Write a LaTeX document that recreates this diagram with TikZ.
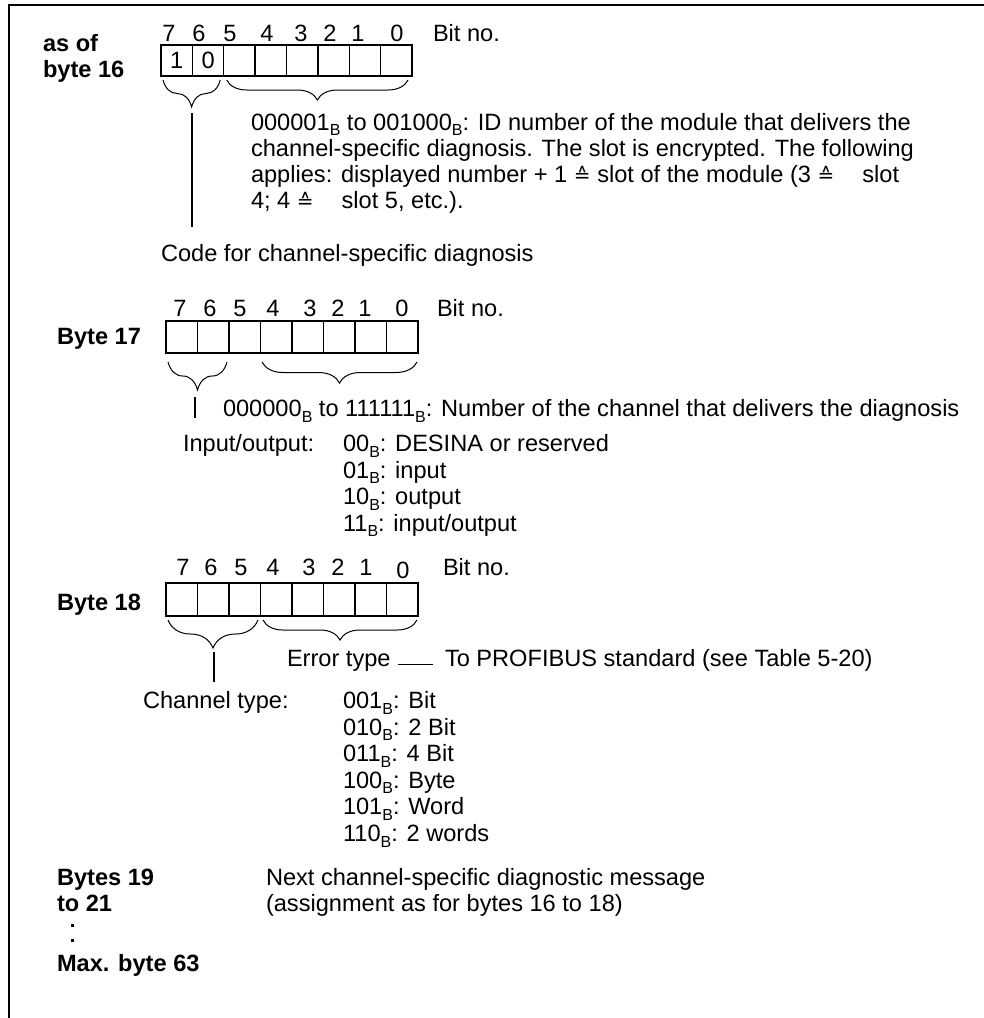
\documentclass[tikz,border=0pt]{standalone}
\usepackage{fontspec}
\setmainfont{Liberation Sans}
\newfontfamily\symfnt{DejaVu Sans}
\usetikzlibrary{decorations.pathreplacing}
\newcommand\sB{\raisebox{-0.24em}[0pt][0pt]{\fontsize{16}{16}\selectfont B}}
\newcommand\corr{{\symfnt\fontsize{20}{20}\selectfont ≙}}
\begin{document}
\begin{tikzpicture}[x=1pt,y=-1pt,
  every node/.style={inner sep=0pt, outer sep=0pt, font=\fontsize{23.6}{26}\selectfont},
  txt/.style={anchor=base west},
  lbl/.style={anchor=base west, font=\fontsize{23.6}{26}\selectfont\bfseries},
  cell/.style={draw, line width=1.4pt, minimum width=31.4pt, minimum height=#1, anchor=center},
  brc/.style={decorate, decoration={brace, mirror, amplitude=#1}, line width=1pt},
  ln/.style={line width=1.1pt},
  frame/.style={line width=1.6pt}]
\useasboundingbox (0,0) rectangle (984,1018);
\draw[frame] (9,1018) -- (9,5) -- (984,5);

% ---------- as of byte 16 ----------
\foreach \i/\t in {0/1,1/0,2/,3/,4/,5/,6/,7/}
  \node[cell=31pt] (a\i) at ({161+31.375*(\i+0.5)},60.5) {\t};
\foreach \x/\n in {169/7,199/6,230/5,267/4,301/3,330/2,358/1,397/0}
  \node (an\n) at (\x,33) {\n};
\node[txt] (abit) at (433,41.5) {Bit no.};
\node[lbl] (asof) at (43,51) {as of};
\node[lbl] (b16) at (43,77) {byte 16};
\draw[brc=27] ([shift={(2pt,-4pt)}]a0.south west) -- ([shift={(-3.5pt,-4pt)}]a1.south east);
\draw[brc=20] ([shift={(3pt,-4pt)}]a2.south west) -- ([shift={(-4pt,-4pt)}]a7.south east);
\coordinate (t16) at (192,113);
\coordinate (t16e) at (192,227);
\draw[ln] (t16) -- (t16e);
\node[txt] (p1) at (251,130) {000001\sB{} to 001000\sB: ID number of the module that delivers the};
\node[txt] (p2) at (251,156.5) {channel-specific diagnosis. The slot is encrypted. The following};
\node[txt] (p3) at (251,182.5) {applies: displayed number + 1 \corr{} slot of the module (3 \corr\hspace{28pt}slot};
\node[txt] (p4) at (251,208.5) {4; 4 \corr\hspace{28pt}slot 5, etc.).};
\node[txt] (code) at (161,261.5) {Code for channel-specific diagnosis};

% ---------- Byte 17 ----------
\foreach \i in {0,...,7}
  \node[cell=32pt, minimum width=31.5pt] (b\i) at ({166+31.5*(\i+0.5)},337) {};
\foreach \x/\n in {180/7,210/6,240/5,273/4,310/3,338/2,365/1,402/0}
  \node (bn\n) at (\x,308) {\n};
\node[txt] (bbit) at (437,316.5) {Bit no.};
\node[lbl] (b17) at (57,344.5) {Byte 17};
\draw[brc=28] ([shift={(2pt,-9pt)}]b0.south west) -- ([shift={(-2pt,-9pt)}]b1.south east);
\draw[brc=21] ([shift={(1.5pt,-9pt)}]b3.south west) -- ([shift={(-1pt,-9pt)}]b7.south east);
\coordinate (t17) at (195,397);
\coordinate (t17e) at (195,418);
\draw[ln] (t17) -- (t17e);
\node[txt] (chn) at (223,416.5) {000000\sB{} to 111111\sB: Number of the channel that delivers the diagnosis};
\node[txt] (io) at (183,451.5) {Input/output:};
\node[txt] (io1) at (343,451.5) {00\sB: DESINA or reserved};
\node[txt] (io2) at (343,478) {01\sB: input};
\node[txt] (io3) at (343,504.5) {10\sB: output};
\node[txt] (io4) at (343,531) {11\sB: input/output};

% ---------- Byte 18 ----------
\foreach \i in {0,...,7}
  \node[cell=33pt, minimum width=31.5pt] (c\i) at ({166+31.5*(\i+0.5)},599.5) {};
\foreach \x/\y/\n in {183/567/7,211/567/6,241/567/5,273/567/4,309/567/3,338/567/2,366/567/1,403/570/0}
  \node (cn\n) at (\x,\y) {\n};
\node[txt] (cbit) at (443,575.5) {Bit no.};
\node[lbl] (b18) at (57,610.5) {Byte 18};
\draw[brc=28] ([shift={(2pt,-4pt)}]c0.south west) -- ([shift={(-2.5pt,-4pt)}]c2.south east);
\draw[brc=20] ([shift={(2.5pt,-4pt)}]c3.south west) -- ([shift={(-1pt,-4pt)}]c7.south east);
\coordinate (t18) at (214,652);
\coordinate (t18e) at (214,682);
\draw[ln] (t18) -- (t18e);
\node[txt] (et) at (287,666.5) {Error type};
\node[txt] (pb) at (445,666.5) {To PROFIBUS standard (see Table 5-20)};
\draw[line width=0.8pt] ([shift={(7pt,2.5pt)}]et.base east) -- ([shift={(-12pt,2.5pt)}]pb.base west);
\node[txt] (ct) at (143,708.5) {Channel type:};
\node[txt] (ct1) at (343,708.5) {001\sB: Bit};
\node[txt] (ct2) at (343,735.1) {010\sB: 2 Bit};
\node[txt] (ct3) at (343,761.7) {011\sB: 4 Bit};
\node[txt] (ct4) at (343,788.3) {100\sB: Byte};
\node[txt] (ct5) at (343,814.9) {101\sB: Word};
\node[txt] (ct6) at (343,841.5) {110\sB: 2 words};

% ---------- Bytes 19 to 21 ----------
\node[lbl] (b19) at (57,885.5) {Bytes 19};
\node[lbl] (b21) at (57,911.5) {to 21};
\fill (70.5,923.5) rectangle (73.5,926.5);
\fill (70.5,938.5) rectangle (73.5,941.5);
\node[txt] (nx1) at (266,885.5) {Next channel-specific diagnostic message};
\node[txt] (nx2) at (266,911.5) {(assignment as for bytes 16 to 18)};
\node[lbl] (mx) at (57,971.5) {Max. byte 63};
\end{tikzpicture}
\end{document}
